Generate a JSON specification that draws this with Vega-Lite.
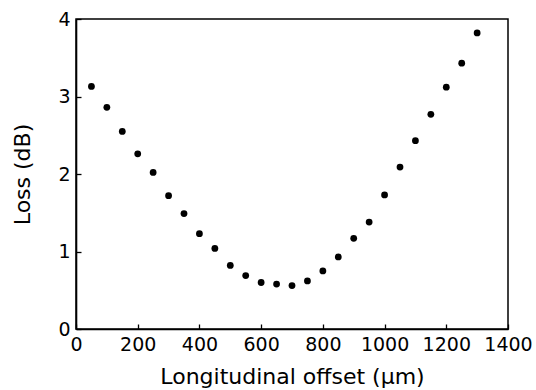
{
  "$schema": "https://vega.github.io/schema/vega-lite/v6.json",
  "width": 432,
  "height": 310,
  "autosize": {"type": "none"},
  "padding": {"left": 76, "top": 19, "right": 28, "bottom": 61},
  "background": "white",
  "config": {
    "view": {"stroke": "black", "strokeWidth": 1.5},
    "font": "DejaVu Sans",
    "axis": {
      "grid": false,
      "domainColor": "black",
      "domainWidth": 1.6,
      "tickColor": "black",
      "tickWidth": 1.3,
      "tickSize": -5,
      "labelColor": "black",
      "labelFont": "DejaVu Sans",
      "labelFontSize": 19,
      "titleFont": "DejaVu Sans",
      "titleFontSize": 22,
      "titleFontWeight": "normal",
      "titleColor": "black"
    }
  },
  "data": {
    "values": [
      {"offset": 50, "loss": 3.13},
      {"offset": 100, "loss": 2.86},
      {"offset": 150, "loss": 2.55},
      {"offset": 200, "loss": 2.26},
      {"offset": 250, "loss": 2.02},
      {"offset": 300, "loss": 1.72},
      {"offset": 350, "loss": 1.49},
      {"offset": 400, "loss": 1.23},
      {"offset": 450, "loss": 1.04},
      {"offset": 500, "loss": 0.82},
      {"offset": 550, "loss": 0.69},
      {"offset": 600, "loss": 0.60},
      {"offset": 650, "loss": 0.58},
      {"offset": 700, "loss": 0.56},
      {"offset": 750, "loss": 0.62},
      {"offset": 800, "loss": 0.75},
      {"offset": 850, "loss": 0.93},
      {"offset": 900, "loss": 1.17},
      {"offset": 950, "loss": 1.38},
      {"offset": 1000, "loss": 1.73},
      {"offset": 1050, "loss": 2.09},
      {"offset": 1100, "loss": 2.43},
      {"offset": 1150, "loss": 2.77},
      {"offset": 1200, "loss": 3.12},
      {"offset": 1250, "loss": 3.43},
      {"offset": 1300, "loss": 3.82}
    ]
  },
  "mark": {"type": "circle", "color": "black", "opacity": 1, "size": 46},
  "encoding": {
    "x": {
      "field": "offset",
      "type": "quantitative",
      "scale": {"domain": [0, 1400], "nice": false, "zero": false},
      "axis": {"values": [0, 200, 400, 600, 800, 1000, 1200, 1400], "format": "d", "title": "Longitudinal offset (μm)", "labelPadding": 11, "titlePadding": 12, "labelFlush": false}
    },
    "y": {
      "field": "loss",
      "type": "quantitative",
      "scale": {"domain": [0, 4], "nice": false},
      "axis": {"values": [0, 1, 2, 3, 4], "format": "d", "title": "Loss (dB)", "labelPadding": 11, "titlePadding": 23, "labelFlush": false}
    }
  }
}
